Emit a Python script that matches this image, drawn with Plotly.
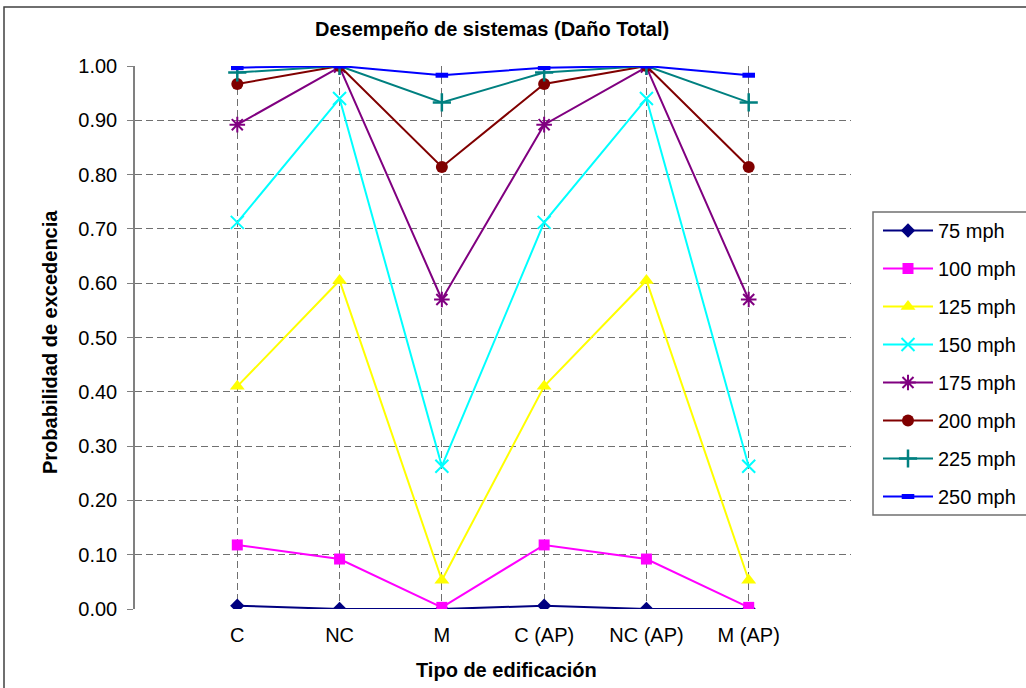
import plotly.graph_objects as go

categories = ["C", "NC", "M", "C (AP)", "NC (AP)", "M (AP)"]
series_names = ["75 mph", "100 mph", "125 mph", "150 mph", "175 mph", "200 mph", "225 mph", "250 mph"]
v75 = [0.006, 0.0, 0.0, 0.006, 0.0, 0.0]
v100 = [0.118, 0.092, 0.003, 0.118, 0.092, 0.003]
v125 = [0.410, 0.605, 0.053, 0.410, 0.605, 0.053]
v150 = [0.712, 0.940, 0.263, 0.712, 0.940, 0.263]
v175 = [0.892, 0.998, 0.570, 0.892, 0.998, 0.570]
v200 = [0.967, 1.000, 0.814, 0.967, 1.000, 0.814]
v225 = [0.988, 1.000, 0.933, 0.988, 1.000, 0.933]
v250 = [0.997, 1.000, 0.983, 0.997, 1.000, 0.983]
y_ticks = [0.0, 0.1, 0.2, 0.3, 0.4, 0.5, 0.6, 0.7, 0.8, 0.9, 1.0]

values = [v75, v100, v125, v150, v175, v200, v225, v250]
colors = ["#000080", "#FF00FF", "#FFFF00", "#00FFFF", "#800080", "#800000", "#008080", "#0000FF"]
symbols = ["diamond", "square", "triangle-up", "x-thin-open", "asterisk-open", "circle", "cross-thin-open", "line-ew-open"]
sizes = [11, 11, 13, 13, 13, 12, 13, 9]
mlw = [0, 0, 0, 2, 2, 0, 2.5, 5]

FONT = "Liberation Sans, Arial, sans-serif"
xpos = list(range(len(categories)))

fig = go.Figure()
for name, vals, c, s, sz, lw in zip(series_names, values, colors, symbols, sizes, mlw):
    fig.add_trace(go.Scatter(
        x=xpos, y=vals, name=name, mode="lines+markers", legendgroup=name,
        line=dict(color=c, width=2),
        marker=dict(symbol=s, size=sz, color=c, line=dict(color=c, width=lw)),
    ))

W, H = 1026, 688
L, R, T, B = 135, 851, 66, 609
pw, ph = R - L, B - T

def px(x):
    return (x - L) / pw

def py(y):
    return (B - y) / ph

shapes = [
    dict(type="rect", xref="paper", yref="paper", x0=px(4), x1=px(1040), y0=py(700), y1=py(7),
         line=dict(color="#404040", width=1.5), fillcolor="rgba(0,0,0,0)", layer="below"),
    dict(type="rect", xref="paper", yref="paper", x0=px(873), x1=px(1040), y0=py(515), y1=py(212),
         line=dict(color="#707070", width=1.5), fillcolor="rgba(0,0,0,0)"),
]

annotations = [
    dict(text="<b>Desempeño de sistemas (Daño Total)</b>", xref="paper", yref="paper",
         x=px(492), y=py(29), xanchor="center", yanchor="middle", showarrow=False,
         font=dict(family=FONT, size=20, color="black")),
    dict(text="<b>Tipo de edificación</b>", xref="paper", yref="paper",
         x=px(507), y=py(670), xanchor="center", yanchor="middle", showarrow=False,
         font=dict(family=FONT, size=20, color="black")),
    dict(text="<b>Probabilidad de excedencia</b>", xref="paper", yref="paper",
         x=px(50), y=py(342), xanchor="center", yanchor="middle", showarrow=False, textangle=-90,
         font=dict(family=FONT, size=20, color="black")),
]

fig.update_layout(
    width=W, height=H,
    margin=dict(l=L, r=W - R, t=T, b=H - B, pad=0, autoexpand=False),
    paper_bgcolor="white", plot_bgcolor="white",
    font=dict(family=FONT, size=20, color="black"),
    showlegend=True,
    legend=dict(x=px(878), y=py(211), xanchor="left", yanchor="top",
                bgcolor="rgba(0,0,0,0)", borderwidth=0,
                font=dict(family=FONT, size=20, color="black"),
                traceorder="grouped", tracegroupgap=9, itemwidth=50),
    shapes=shapes, annotations=annotations,
)

fig.update_xaxes(
    range=[-1, 6], tickmode="array", tickvals=xpos + [6], ticktext=categories + [""],
    showgrid=True, gridcolor="#707070", gridwidth=1, griddash="7px,4px",
    showline=False, zeroline=False,
    ticks="outside", ticklen=8, tickcolor="rgba(0,0,0,0)",
    tickfont=dict(family=FONT, size=20, color="black"),
)
fig.update_yaxes(
    range=[0, 1], tickmode="array", tickvals=y_ticks, ticktext=[f"{v:.2f}" for v in y_ticks],
    showgrid=True, gridcolor="#707070", gridwidth=1, griddash="7px,4px",
    showline=True, linecolor="#808080", linewidth=1.5, zeroline=False,
    ticks="outside", ticklen=6, tickcolor="#808080", ticklabelstandoff=6,
    tickfont=dict(family=FONT, size=20, color="black"),
)

fig.write_html("out.html")
